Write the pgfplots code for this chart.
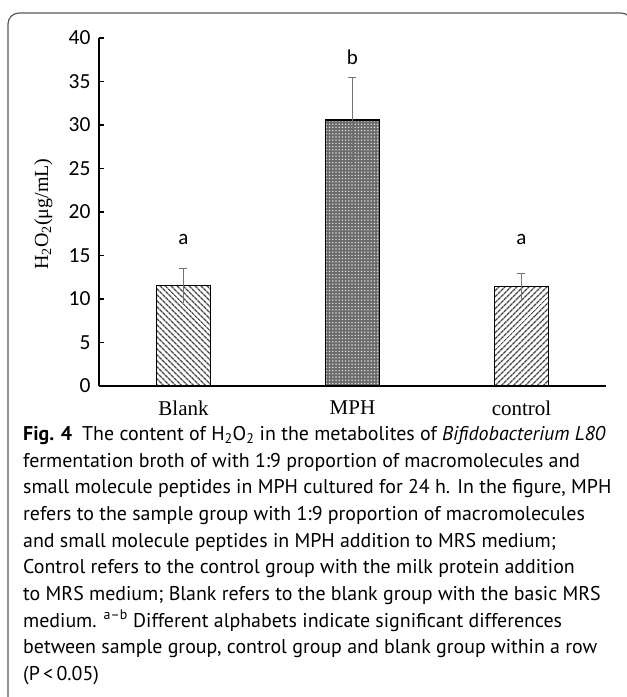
\documentclass[border=0pt]{standalone}
\usepackage{fontspec}
\setmainfont{PT Sans}
\newfontfamily\timesf{Liberation Serif}
\newfontfamily\calib{Carlito}
\usepackage{pgfplots}
\pgfplotsset{compat=1.18}
\usetikzlibrary{patterns.meta}
\begin{document}
\begin{tikzpicture}
\path[use as bounding box] (0,0) rectangle (627pt,-697pt);
\begin{scope}
\clip (0,0) rectangle (627pt,-697pt);
\draw[line width=1.2pt, black!65, rounded corners=11pt] (8pt,-13pt) rectangle (632pt,-708pt);
\end{scope}
\begin{axis}[
  scale only axis, width=507pt, height=348pt,
  at={(99pt,-386pt)}, anchor=south west,
  xmin=-0.5, xmax=2.5, ymin=0, ymax=40,
  ytick={0,5,...,40}, xtick={0,1,2}, xticklabels={Blank,MPH,control},
  axis x line*=bottom, axis y line*=left,
  axis line style={-, line width=1.6pt, black},
  tick align=inside, major tick length=5pt,
  ytick style={line width=1.2pt, black},
  xtick style={draw=none},
  /pgf/number format/assume math mode=true,
  yticklabel style={font=\calib\fontsize{21.5}{21.5}\selectfont, xshift=-5pt},
  xticklabel style={font=\timesf\fontsize{21}{21}\selectfont, yshift=-11pt},
  ylabel={H\textsubscript{2}O\textsubscript{2}(μg/mL)},
  ylabel style={font=\timesf\fontsize{20}{20}\selectfont, at={(axis description cs:-0.11,0.494)}, anchor=center},
  clip=false,
]
% Blank
\addplot[ybar, bar shift=0pt, bar width=0.32, draw=black, line width=1.5pt,
  pattern={Lines[angle=-45,distance=4pt,line width=1.4pt]}, pattern color=black!72]
  coordinates {(0,11.53)};
% MPH
\addplot[ybar, bar shift=0pt, bar width=0.32, draw=black, line width=1.5pt,
  fill=black!58,
  postaction={pattern={Dots[radius=0.8pt,distance=3.2pt]}, pattern color=white!88!black}]
  coordinates {(1,30.57)};
% control
\addplot[ybar, bar shift=0pt, bar width=0.32, draw=black, line width=1.5pt,
  pattern={Lines[angle=45,distance=4pt,line width=1.4pt]}, pattern color=black!72]
  coordinates {(2,11.42)};
% error bars (upper with cap)
\addplot[draw=none, mark=none,
  error bars/.cd, y dir=plus, y explicit,
  error bar style={line width=1.2pt, black!55},
  error mark options={rotate=90, mark size=4pt, line width=1.2pt, black!55}]
  coordinates {(0,11.53) +- (0,2.0) (1,30.57) +- (0,4.9) (2,11.42) +- (0,1.5)};
% error bars (lower, no cap)
\addplot[draw=none, mark=none,
  error bars/.cd, y dir=minus, y explicit, error mark=none,
  error bar style={line width=1.2pt, black!55}]
  coordinates {(0,11.53) +- (0,2.0) (1,30.57) +- (0,4.9) (2,11.42) +- (0,1.5)};
% letters
\addplot[draw=none, mark=none, nodes near coords, point meta=explicit symbolic,
  nodes near coords style={anchor=center, font=\calib\fontsize{21}{21}\selectfont}]
  coordinates {(0,16.8)[a] (1,37.8)[b] (2,16.8)[a]};
\end{axis}
\node[anchor=north west, align=left, inner sep=0pt, font=\fontsize{19.9}{26.7}\selectfont] at (23pt,-426pt) {%
\textbf{Fig. 4}\enspace The content of H\textsubscript{2}O\textsubscript{2} in the metabolites of \textit{Bifidobacterium L80}\\
fermentation broth of with 1:9 proportion of macromolecules and\\
small molecule peptides in MPH cultured for 24 h. In the figure, MPH\\
refers to the sample group with 1:9 proportion of macromolecules\\
and small molecule peptides in MPH addition to MRS medium;\\
Control refers to the control group with the milk protein addition\\
to MRS medium; Blank refers to the blank group with the basic MRS\\
medium. \textsuperscript{a--b} Different alphabets indicate significant differences\\
between sample group, control group and blank group within a row\\
(P\,<\,0.05)};
\end{tikzpicture}
\end{document}
